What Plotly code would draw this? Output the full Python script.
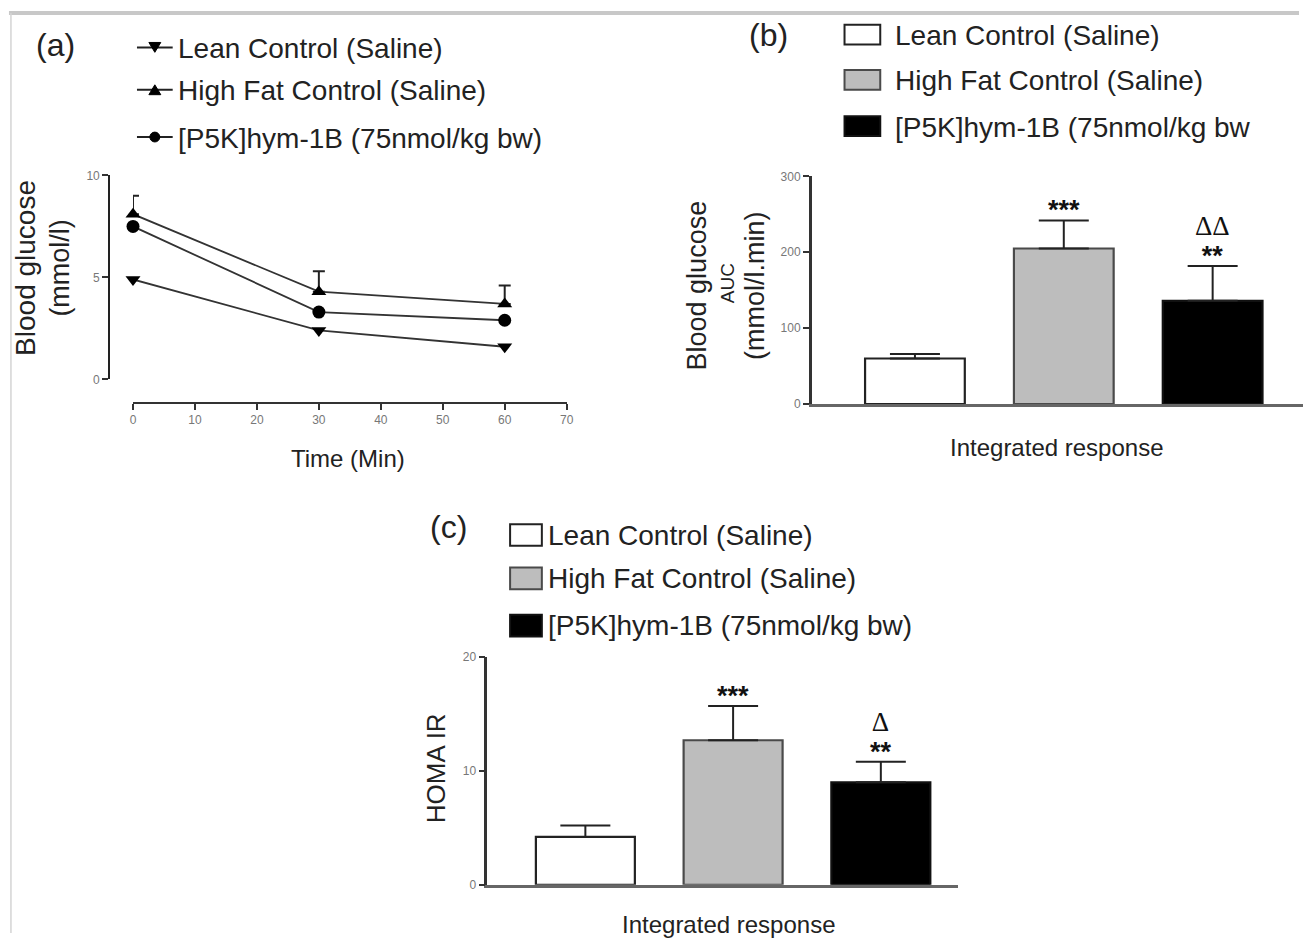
import plotly.graph_objects as go

W, H = 1310, 940

# ---------------- data ----------------
groups = ["Lean Control (Saline)", "High Fat Control (Saline)", "[P5K]hym-1B (75nmol/kg bw)"]
groups_b = ["Lean Control (Saline)", "High Fat Control (Saline)", "[P5K]hym-1B (75nmol/kg bw"]

time_min = [0, 30, 60]
lean_glucose = [4.9, 2.4, 1.6]
hf_glucose = [8.1, 4.3, 3.7]
hf_glucose_err = [0.9, 1.0, 0.9]
p5k_glucose = [7.5, 3.3, 2.9]

auc_values = [60, 205, 136]
auc_errors = [6, 37, 46]
auc_sig = ["", "***", "**"]
auc_delta = ["", "", "ΔΔ"]

homa_values = [4.2, 12.7, 9.0]
homa_errors = [1.0, 3.0, 1.8]
homa_sig = ["", "***", "**"]
homa_delta = ["", "", "Δ"]

x_ticks_a = [0, 10, 20, 30, 40, 50, 60, 70]
y_ticks_a = [0, 5, 10]
y_ticks_b = [0, 100, 200, 300]
y_ticks_c = [0, 10, 20]

bar_fill = ["#ffffff", "#bdbdbd", "#000000"]
bar_edge = ["#222222", "#4a4a4a", "#111111"]

FONT = "Liberation Sans, Arial, sans-serif"
SERIF = "Liberation Serif, Times New Roman, serif"
TICKFONT = dict(family="Liberation Sans Narrow, Liberation Sans, Arial", size=12, color="#777")


def fx(px):
    return px / W


def fy(py):
    return 1 - py / H


fig = go.Figure()

# ---------------- panel (a) ----------------
markers = ["triangle-down", "triangle-up", "circle"]
series_a = [lean_glucose, hf_glucose, p5k_glucose]
errs_a = [None, hf_glucose_err, None]
for name, vals, sym, err in zip(groups, series_a, markers, errs_a):
    tr = dict(
        x=time_min, y=vals, mode="lines+markers", name=name,
        line=dict(color="#333333", width=1.8),
        marker=dict(symbol=sym, size=13, color="#000000"),
        xaxis="x", yaxis="y", cliponaxis=False, showlegend=False,
    )
    if err is not None:
        tr["error_y"] = dict(type="data", array=err, arrayminus=[0] * len(err),
                             symmetric=False, color="#222", thickness=2, width=6)
    fig.add_trace(go.Scatter(**tr))

# ---------------- panel (b) ----------------
fig.add_trace(go.Bar(
    x=[0, 1, 2], y=auc_values, width=0.67,
    marker=dict(color=bar_fill, line=dict(color=bar_edge, width=2.2)),
    error_y=dict(type="data", array=auc_errors, arrayminus=[0, 0, 0], symmetric=False,
                 color="#222", thickness=2, width=25),
    xaxis="x2", yaxis="y2", showlegend=False,
))

# ---------------- panel (c) ----------------
fig.add_trace(go.Bar(
    x=[0, 1, 2], y=homa_values, width=0.67,
    marker=dict(color=bar_fill, line=dict(color=bar_edge, width=2.2)),
    error_y=dict(type="data", array=homa_errors, arrayminus=[0, 0, 0], symmetric=False,
                 color="#222", thickness=2, width=25),
    xaxis="x3", yaxis="y3", showlegend=False,
))

axis_common = dict(showgrid=False, zeroline=False, showline=True, tickfont=TICKFONT,
                   ticks="outside", ticklen=6, tickwidth=1.5, tickcolor="#333")

fig.update_layout(
    width=W, height=H, margin=dict(l=0, r=0, t=0, b=0),
    paper_bgcolor="white", plot_bgcolor="rgba(0,0,0,0)",
    xaxis=dict(axis_common, domain=[fx(131), fx(568)], range=[0, 70], tickvals=x_ticks_a,
               anchor="free", position=fy(402), linecolor="#333", linewidth=2),
    yaxis=dict(axis_common, domain=[fy(378), fy(171)], range=[0, 10], tickvals=y_ticks_a,
               anchor="free", position=fx(107), linecolor="#222", linewidth=2),
    xaxis2=dict(axis_common, domain=[fx(815), fx(1310)], range=[-0.693, 2.607], ticks="",
                showticklabels=False, anchor="y2", linecolor="#666", linewidth=3),
    yaxis2=dict(axis_common, domain=[fy(403), fy(172)], range=[0, 300], tickvals=y_ticks_b,
                anchor="x2", linecolor="#333", linewidth=2.5),
    xaxis3=dict(axis_common, domain=[fx(488), fx(962)], range=[-0.664, 2.52], ticks="",
                showticklabels=False, anchor="y3", linecolor="#666", linewidth=3),
    yaxis3=dict(axis_common, domain=[fy(891), fy(660)], range=[0, 20], tickvals=y_ticks_c,
                anchor="x3", linecolor="#333", linewidth=2.5),
)

shapes = []
annots = []


def text(t, x, y, size, angle=0, xanchor="center", family=FONT, color="#222", yanchor="middle"):
    annots.append(dict(text=t, x=fx(x), y=fy(y), xref="paper", yref="paper", showarrow=False,
                       textangle=angle, xanchor=xanchor, yanchor=yanchor,
                       font=dict(family=family, size=size, color=color)))


# frame lines
shapes.append(dict(type="line", xref="paper", yref="paper", x0=fx(6), x1=fx(1306),
                   y0=fy(6), y1=fy(6), line=dict(color="#c8c8c8", width=4)))
shapes.append(dict(type="line", xref="paper", yref="paper", x0=fx(8), x1=fx(8),
                   y0=fy(6), y1=fy(940), line=dict(color="#d4d4d4", width=1.5)))

# panel labels
text("(a)", 53, 39, 32)
text("(b)", 771, 28, 32)
text("(c)", 449, 528, 32)

# legend (a)
leg_a_y = [41, 84, 132]
for i, (name, yy) in enumerate(zip(groups, leg_a_y)):
    shapes.append(dict(type="line", xref="paper", yref="paper", x0=fx(135), x1=fx(171),
                       y0=fy(yy), y1=fy(yy), line=dict(color="#222", width=2)))
    cx = 153
    if markers[i] == "triangle-down":
        path = f"M {fx(cx-6)},{fy(yy-5)} L {fx(cx+6)},{fy(yy-5)} L {fx(cx)},{fy(yy+5)} Z"
        shapes.append(dict(type="path", xref="paper", yref="paper", path=path,
                           fillcolor="black", line=dict(color="black", width=1)))
    elif markers[i] == "triangle-up":
        path = f"M {fx(cx-6)},{fy(yy+5)} L {fx(cx+6)},{fy(yy+5)} L {fx(cx)},{fy(yy-5)} Z"
        shapes.append(dict(type="path", xref="paper", yref="paper", path=path,
                           fillcolor="black", line=dict(color="black", width=1)))
    else:
        shapes.append(dict(type="circle", xref="paper", yref="paper", x0=fx(cx - 5), x1=fx(cx + 5),
                           y0=fy(yy - 5), y1=fy(yy + 5), fillcolor="black",
                           line=dict(color="black", width=1)))
    text(name, 174, yy + 1, 28, xanchor="left")

# legend (b)
leg_b_y = [28, 74, 121]
for i, (name, yy) in enumerate(zip(groups_b, leg_b_y)):
    shapes.append(dict(type="rect", xref="paper", yref="paper", x0=fx(848), x1=fx(884),
                       y0=fy(yy - 10), y1=fy(yy + 10), fillcolor=bar_fill[i],
                       line=dict(color=bar_edge[i], width=2)))
    text(name, 897, yy + 1, 28, xanchor="left")

# legend (c)
leg_c_y = [536, 580, 628]
for i, (name, yy) in enumerate(zip(groups, leg_c_y)):
    shapes.append(dict(type="rect", xref="paper", yref="paper", x0=fx(511), x1=fx(543),
                       y0=fy(yy - 11), y1=fy(yy + 11), fillcolor=bar_fill[i],
                       line=dict(color=bar_edge[i], width=2)))
    text(name, 547, yy, 28, xanchor="left")

# axis titles
text("Blood glucose", 22, 265, 28, angle=-90)
text("(mmol/l)", 57, 265, 27, angle=-90)
text("Time (Min)", 348, 458, 24)

text("Blood glucose", 699, 283, 27, angle=-90)
text("AUC", 730, 280, 19, angle=-90)
text("(mmol/l.min)", 758, 283, 27, angle=-90)
text("Integrated response", 1062, 447, 24)

text("HOMA IR", 437, 773, 26, angle=-90)
text("Integrated response", 731, 931, 24)


# significance markers (stars, with delta above them in one text block)
def sig_label(stars, delta):
    star_part = f"<span style='font-size:27px'><b>{stars}</b></span>"
    if delta:
        return (f"<span style='font-family:{SERIF};font-size:27px'>{delta}</span><br>" + star_part)
    return star_part


for xr, yr, vals, errs, sigs, deltas in [("x2", "y2", auc_values, auc_errors, auc_sig, auc_delta),
                                         ("x3", "y3", homa_values, homa_errors, homa_sig, homa_delta)]:
    for i in range(3):
        if not sigs[i]:
            continue
        annots.append(dict(text=sig_label(sigs[i], deltas[i]), x=i, y=vals[i] + errs[i],
                           xref=xr, yref=yr, showarrow=False, yanchor="bottom",
                           yshift=-7, font=dict(family=FONT, size=23, color="#111")))

fig.update_layout(shapes=shapes, annotations=annots)
fig.write_html("out.html")
